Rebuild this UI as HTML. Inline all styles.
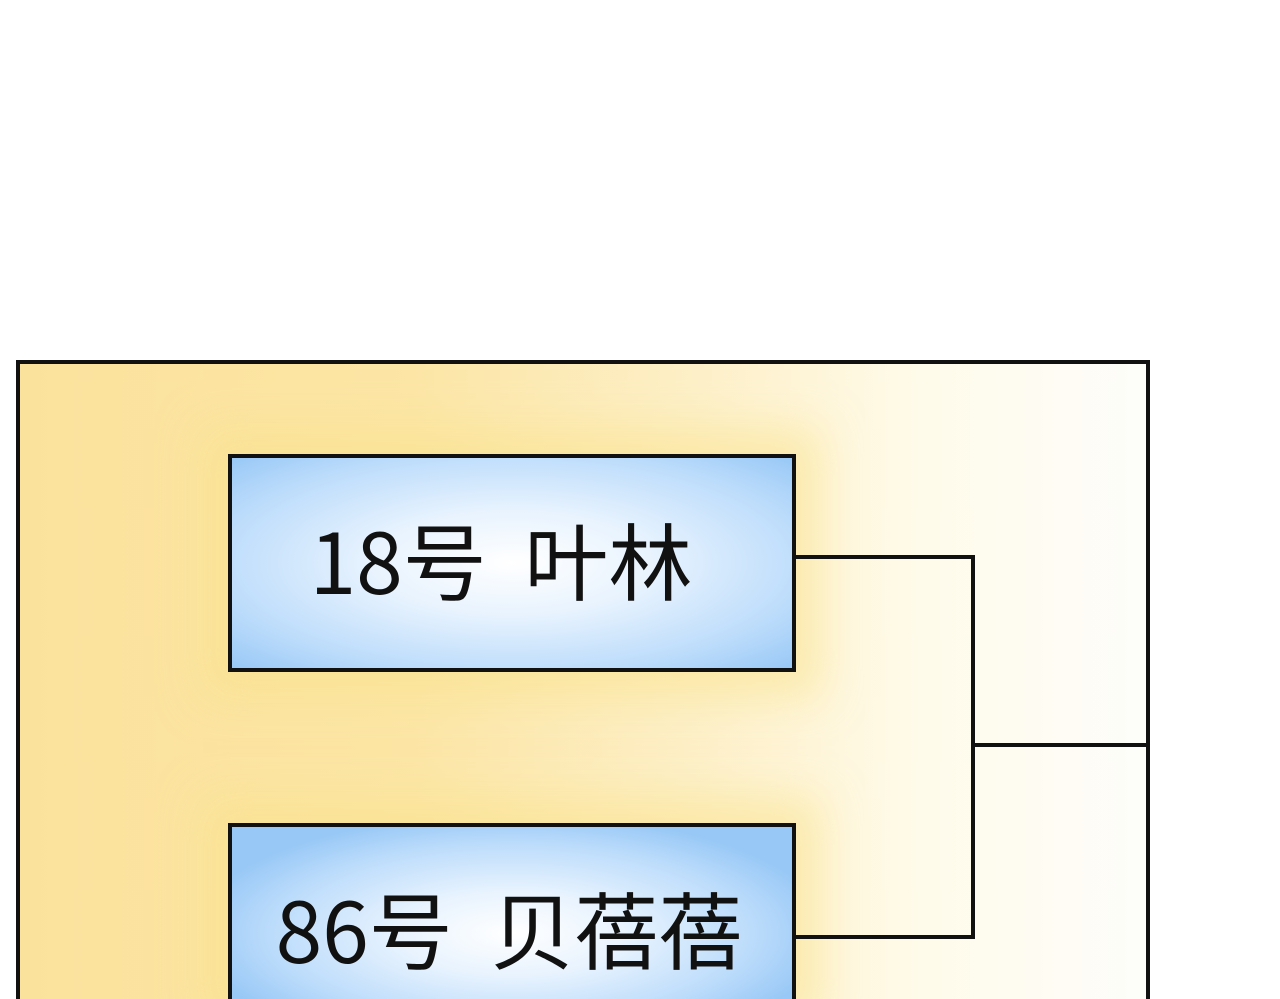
<!DOCTYPE html>
<html>
<head>
<meta charset="utf-8">
<style>
html,body{margin:0;padding:0;width:1280px;height:999px;overflow:hidden;}
body{background:#fff;position:relative;font-family:"Noto Sans CJK SC","Liberation Sans",sans-serif;}
.outer{position:absolute;left:16px;top:360px;width:1126px;height:635px;border:4px solid #111;border-bottom:none;
background:linear-gradient(90deg,#fbe29c 0%,#fce6a6 35%,#fdf0c8 60%,#fffbea 80%,#fdfdfa 100%);}
.glow{box-shadow:0 0 40px 25px rgba(250,225,140,0.55);}
.box{position:absolute;border:4px solid #111;
background:radial-gradient(ellipse at center,#ffffff 0%,#e8f3fe 35%,#bcdcfb 75%,#98c8f6 100%);
display:flex;align-items:center;justify-content:center;font-size:84px;color:#111;white-space:pre;line-height:1;}
.l{position:absolute;background:#111;}
</style>
</head>
<body>
<div class="outer"></div>
<div class="box glow" style="left:228px;top:454px;width:560px;height:210px;"><span style="position:relative;left:-11px;top:-4px">18号  叶林</span></div>
<div class="box glow" style="left:228px;top:823px;width:560px;height:172px;border-bottom:none;background:radial-gradient(ellipse 320px 120px at 50% 62%,#ffffff 0%,#e8f3fe 35%,#bcdcfb 75%,#98c8f6 100%);"><span style="position:relative;left:-3px;top:15px">86号  贝蓓蓓</span></div>
<div class="l" style="left:792px;top:555px;width:183px;height:4px;"></div>
<div class="l" style="left:792px;top:935px;width:183px;height:4px;"></div>
<div class="l" style="left:971px;top:555px;width:4px;height:384px;"></div>
<div class="l" style="left:971px;top:743px;width:176px;height:4px;"></div>
</body>
</html>
